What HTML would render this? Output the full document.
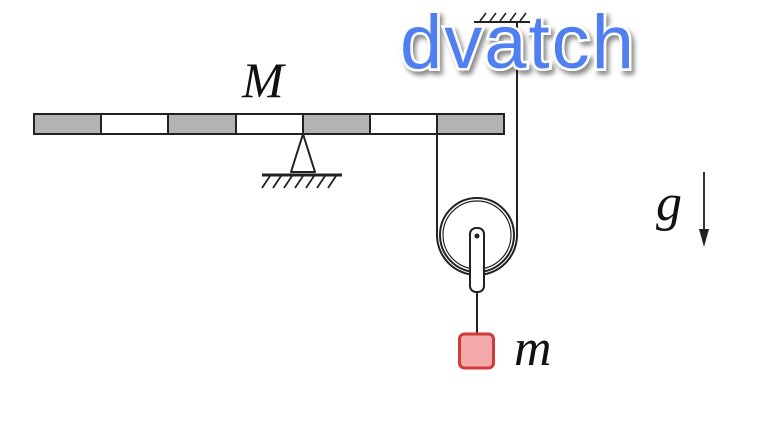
<!DOCTYPE html>
<html><head><meta charset="utf-8"><style>
html,body{margin:0;padding:0;background:#fff;}
svg{display:block}
</style></head><body>
<svg width="770" height="426" viewBox="0 0 770 426" xmlns="http://www.w3.org/2000/svg">
<defs>
<filter id="sh" x="-10%" y="-20%" width="130%" height="150%">
<feDropShadow dx="3" dy="4" stdDeviation="2.5" flood-color="#000" flood-opacity="0.45"/>
</filter>
</defs>
<g stroke="#222" stroke-width="2">
<rect x="34" y="114" width="67" height="20" fill="#b3b3b3"/>
<rect x="101" y="114" width="67" height="20" fill="#fff"/>
<rect x="168" y="114" width="68" height="20" fill="#b3b3b3"/>
<rect x="236" y="114" width="67" height="20" fill="#fff"/>
<rect x="303" y="114" width="67" height="20" fill="#b3b3b3"/>
<rect x="370" y="114" width="67" height="20" fill="#fff"/>
<rect x="437" y="114" width="67" height="20" fill="#b3b3b3"/>
</g>
<path d="M303 134 L291 172 L315 172 Z" fill="#fff" stroke="#222" stroke-width="2" stroke-linejoin="round"/>
<line x1="262" y1="175" x2="342" y2="175" stroke="#222" stroke-width="3"/>
<g stroke="#222" stroke-width="1.8">
<line x1="270" y1="176" x2="262" y2="188"/><line x1="281" y1="176" x2="273" y2="188"/>
<line x1="292" y1="176" x2="284" y2="188"/><line x1="303" y1="176" x2="295" y2="188"/>
<line x1="314" y1="176" x2="306" y2="188"/><line x1="325" y1="176" x2="317" y2="188"/>
<line x1="336" y1="176" x2="328" y2="188"/>
</g>
<line x1="474" y1="22" x2="530" y2="22" stroke="#222" stroke-width="2"/>
<g stroke="#222" stroke-width="1.6">
<line x1="480" y1="21" x2="486" y2="13"/><line x1="490" y1="21" x2="496" y2="13"/>
<line x1="500" y1="21" x2="506" y2="13"/><line x1="510" y1="21" x2="516" y2="13"/>
<line x1="520" y1="21" x2="526" y2="13"/>
</g>
<path d="M437 134 L437 235 A40 40 0 0 0 517 235 L517 22" fill="none" stroke="#222" stroke-width="2"/>
<circle cx="477" cy="235" r="37" fill="#fff" stroke="#222" stroke-width="2"/>
<circle cx="477" cy="235" r="34" fill="none" stroke="#222" stroke-width="1.2"/>
<rect x="470" y="228" width="14" height="64" rx="6" fill="#fff" stroke="#222" stroke-width="2"/>
<circle cx="477" cy="236" r="2.5" fill="#222"/>
<line x1="477" y1="292" x2="477" y2="334" stroke="#222" stroke-width="2"/>
<rect x="459.5" y="334" width="34" height="34" rx="5" fill="#f4a9a9" stroke="#d23a3a" stroke-width="3"/>
<text x="514" y="365" font-family="Liberation Serif, serif" font-style="italic" font-size="52" fill="#111">m</text>
<text x="242" y="97" font-family="Liberation Serif, serif" font-style="italic" font-size="50" fill="#111">M</text>
<text x="656" y="220" font-family="Liberation Serif, serif" font-style="italic" font-size="52" fill="#111">g</text>
<line x1="704" y1="172" x2="704" y2="235" stroke="#333" stroke-width="2"/>
<path d="M699 229 L704 247 L709 229 Z" fill="#222"/>
<text x="400" y="68" font-family="Liberation Sans, sans-serif" font-size="76" letter-spacing="2" fill="#4f7ff0" stroke="#fff" stroke-width="5" paint-order="stroke" filter="url(#sh)">dvatch</text>
</svg>
</body></html>
